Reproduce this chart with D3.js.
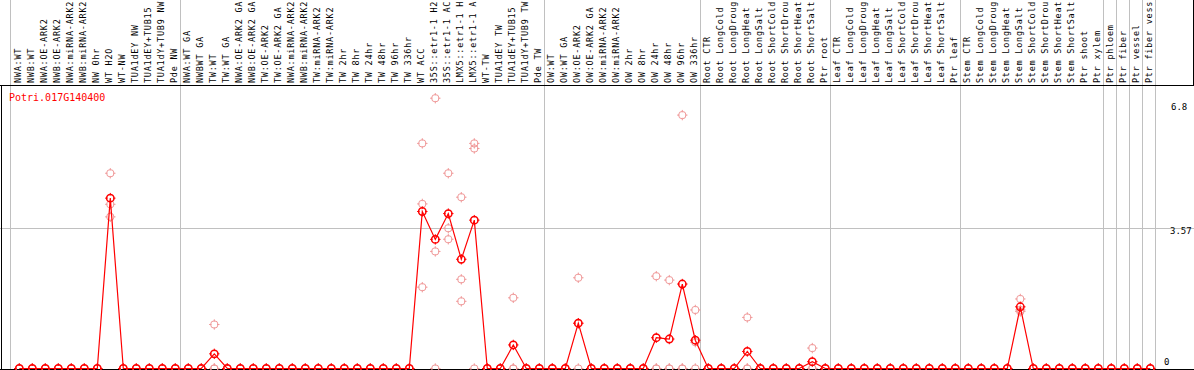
<!DOCTYPE html>
<html>
<head>
<meta charset="utf-8">
<script src="https://cdn.jsdelivr.net/npm/d3@7"></script>
<style>
  html, body { margin: 0; padding: 0; background: #fff; }
  svg { display: block; }
</style>
</head>
<body>
<svg width="1194" height="370"></svg>
<script>
// Sample names, as printed (clipped to 14 chars)
const samples = [
  'NWA:WT', 'NWB:WT', 'NWA:OE-ARK2', 'NWB:OE-ARK2', 'NWA:miRNA-ARK2', 'NWB:miRNA-ARK2',
  'NW 0hr', 'WT H2O', 'WT-NW', 'TUA1dEY NW', 'TUA1dEY+TUB15', 'TUA1dY+TUB9 NW', 'Pde NW',
  'NWA:WT GA', 'NWBWT GA', 'TW:WT', 'TW:WT GA', 'NWA:OE-ARK2 GA', 'NWB:OE-ARK2 GA',
  'TW:OE-ARK2', 'TW:OE-ARK2 GA', 'NWA:miRNA-ARK2', 'NWB:miRNA-ARK2', 'TW:miRNA-ARK2',
  'TW:miRNA-ARK2', 'TW 2hr', 'TW 8hr', 'TW 24hr', 'TW 48hr', 'TW 96hr', 'TW 336hr',
  'WT ACC', '35S::etr1-1 H2', '35S::etr1-1 AC', 'LMX5::etr1-1 H', 'LMX5::etr1-1 A',
  'WT-TW', 'TUA1dEY TW', 'TUA1dEY+TUB15', 'TUA1dY+TUB9 TW', 'Pde TW',
  'OW:WT', 'OW:WT GA', 'OW:OE-ARK2', 'OW:OE-ARK2 GA', 'OW:miRNA-ARK2', 'OW:miRNA-ARK2',
  'OW 2hr', 'OW 8hr', 'OW 24hr', 'OW 48hr', 'OW 96hr', 'OW 336hr',
  'Root CTR', 'Root LongCold', 'Root LongDroug', 'Root LongHeat', 'Root LongSalt',
  'Root ShortCold', 'Root ShortDrou', 'Root ShortHeat', 'Root ShortSalt', 'Ptr root',
  'Leaf CTR', 'Leaf LongCold', 'Leaf LongDroug', 'Leaf LongHeat', 'Leaf LongSalt',
  'Leaf ShortCold', 'Leaf ShortDrou', 'Leaf ShortHeat', 'Leaf ShortSalt', 'Ptr leaf',
  'Stem CTR', 'Stem LongCold', 'Stem LongDroug', 'Stem LongHeat', 'Stem LongSalt',
  'Stem ShortCold', 'Stem ShortDrou', 'Stem ShortHeat', 'Stem ShortSalt', 'Ptr shoot',
  'Ptr xylem', 'Ptr phloem', 'Ptr fiber', 'Ptr vessel', 'Ptr fiber vess'
];

// Index of the last sample of each group (a grey separator follows it)
const groupEnds = [12, 40, 52, 62, 72, 83, 84, 85, 86, 87];

// Three replicates per sample
const rep1 = [
  0, 0, 0, 0, 0, 0, 0, 4.97, 0, 0, 0, 0, 0,
  0, 0, 1.12, 0, 0, 0, 0, 0, 0, 0, 0, 0, 0, 0, 0, 0, 0, 0,
  5.73, 6.88, 4.97, 4.36, 5.73, 0, 0, 1.80, 0, 0,
  0, 0, 2.31, 0, 0, 0, 0, 0, 2.35, 2.25, 6.45, 1.49,
  0, 0, 0, 1.30, 0, 0, 0, 0, 0.52, 0,
  0, 0, 0, 0, 0, 0, 0, 0, 0, 0,
  0, 0, 0, 0, 1.77, 0, 0, 0, 0, 0,
  0, 0, 0, 0, 0
];
const rep2 = [
  0, 0, 0, 0, 0, 0, 0, 4.18, 0, 0, 0, 0, 0,
  0, 0, 0, 0, 0, 0, 0, 0, 0, 0, 0, 0, 0, 0, 0, 0, 0, 0,
  4.19, 2.98, 3.57, 2.27, 5.60, 0, 0, 0, 0, 0,
  0, 0, 1.15, 0, 0, 0, 0, 0, 0, 0, 0, 0.67,
  0, 0, 0, 0, 0, 0, 0, 0, 0, 0,
  0, 0, 0, 0, 0, 0, 0, 0, 0, 0,
  0, 0, 0, 0, 1.49, 0, 0, 0, 0, 0,
  0, 0, 0, 0, 0
];
const rep3 = [
  0, 0, 0, 0, 0, 0, 0, 3.86, 0, 0, 0, 0, 0,
  0, 0, 0, 0, 0, 0, 0, 0, 0, 0, 0, 0, 0, 0, 0, 0, 0, 0,
  2.07, 0, 3.29, 1.71, 0, 0, 0, 0, 0, 0,
  0, 0, 0, 0, 0, 0, 0, 0, 0, 0, 0, 0,
  0, 0, 0, 0, 0, 0, 0, 0, 0, 0,
  0, 0, 0, 0, 0, 0, 0, 0, 0, 0,
  0, 0, 0, 0, 1.45, 0, 0, 0, 0, 0,
  0, 0, 0, 0, 0
];

const geneName = 'Potri.017G140400';
const yTicks = [6.8, 3.57, 0];
const yMax = 7.14;

const W = 1194, H = 370;
const headerH = 85;     // label strip height
const plotTop = 88, plotBottom = 368.5;
const red = '#ff0000', pink = '#f09a9a', grey = '#c0c0c0';
const mono = '"DejaVu Sans Mono", monospace';

let svg = d3.select('svg');

// x: one slot per sample (by index, names repeat), 13px apart
let x = d3.scalePoint()
  .domain(d3.range(samples.length))
  .range([19.3, 19.3 + 13 * (samples.length - 1)]);

let y = d3.scaleLinear()
  .domain([0, yMax])
  .range([plotBottom, plotTop]);

let means = samples.map((s, i) => (rep1[i] + rep2[i] + rep3[i]) / 3);

// grey grid
svg.append('line')
  .attr('x1', 0).attr('x2', W)
  .attr('y1', Math.round(y(yMax / 2)) + 0.5).attr('y2', Math.round(y(yMax / 2)) + 0.5)
  .attr('stroke', grey);

let seps = [x(0) - 9].concat(groupEnds.map(i => x(i) + 5));
svg.selectAll('line.sep').data(seps).enter()
  .append('line')
  .attr('class', 'sep')
  .attr('x1', d => Math.round(d) + 0.5).attr('x2', d => Math.round(d) + 0.5)
  .attr('y1', 0).attr('y2', H)
  .attr('stroke', grey);

// frame
svg.append('line').attr('x1', 0).attr('x2', W).attr('y1', headerH + 0.5).attr('y2', headerH + 0.5).attr('stroke', '#000');
svg.append('line').attr('x1', 1.5).attr('x2', 1.5).attr('y1', headerH).attr('y2', H).attr('stroke', '#000');
svg.append('line').attr('x1', 0).attr('x2', W).attr('y1', 369.5).attr('y2', 369.5).attr('stroke', '#000');
svg.append('line').attr('x1', W - 0.5).attr('x2', W - 0.5).attr('y1', 0).attr('y2', headerH).attr('stroke', '#000');

// sample labels, rotated
svg.selectAll('text.lab').data(samples).enter()
  .append('text')
  .attr('class', 'lab')
  .attr('transform', (d, i) => 'translate(' + (x(i) + 2) + ',' + 83 + ') rotate(-90)')
  .attr('font-family', mono)
  .attr('font-size', 8.5)
  .attr('letter-spacing', 0.75)
  .attr('fill', '#000')
  .text(d => d);

// gene name
svg.append('text')
  .attr('x', 9).attr('y', 101)
  .attr('font-family', mono)
  .attr('font-size', 10)
  .attr('fill', red)
  .text(geneName);

// y labels on the right
const tickDx = [1171, 1170, 1164];
const tickDy = [9, 6, -4];
svg.selectAll('text.yt').data(yTicks).enter()
  .append('text')
  .attr('class', 'yt')
  .attr('x', (d, i) => tickDx[i])
  .attr('y', (d, i) => y(d) + tickDy[i])
  .attr('font-family', mono)
  .attr('font-size', 9)
  .attr('fill', '#000')
  .text(d => d);

// crosshair circle marker
function marker(g, cx, cy, color, sw)
{
  const r = 3.7;
  g.append('circle').attr('cx', cx).attr('cy', cy).attr('r', r)
    .attr('fill', 'none').attr('stroke', color).attr('stroke-width', sw);
  [[0, -1], [0, 1], [-1, 0], [1, 0]].forEach(([dx, dy]) =>
  {
    g.append('line')
      .attr('x1', cx + dx * (r - 1)).attr('y1', cy + dy * (r - 1))
      .attr('x2', cx + dx * (r + 1.5)).attr('y2', cy + dy * (r + 1.5))
      .attr('stroke', color).attr('stroke-width', 1);
  });
}

// replicates
let repG = svg.append('g');
[rep1, rep2, rep3].forEach(rep =>
{
  rep.forEach((v, i) => marker(repG, x(i), y(v), pink, 1));
});

// mean line
let line = d3.line()
  .x((d, i) => x(i))
  .y(d => y(d));

svg.append('path')
  .datum(means)
  .attr('d', line)
  .attr('fill', 'none')
  .attr('stroke', red)
  .attr('stroke-width', 1.2);

let meanG = svg.append('g');
means.forEach((v, i) => marker(meanG, x(i), y(v), red, 1.5));
</script>
</body>
</html>
